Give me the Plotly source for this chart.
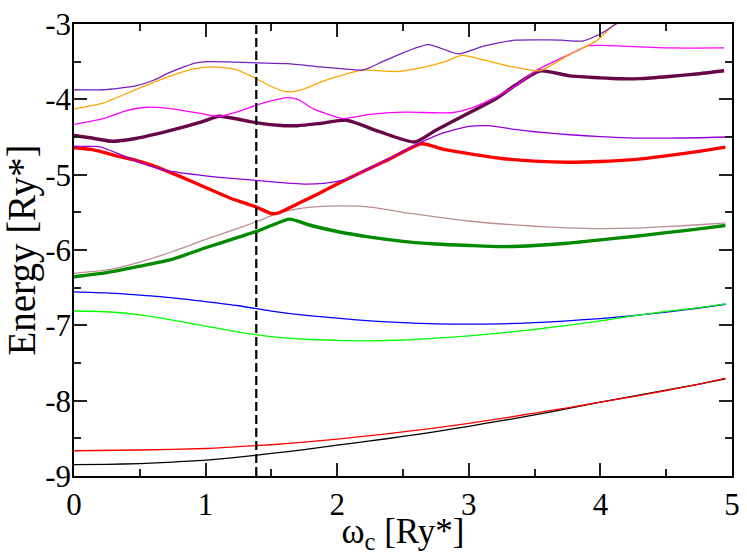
import plotly.graph_objects as go

# ── Data ──────────────────────────────────────────────────────────────────────

BLACK_X = [0, 0.25, 0.5, 0.75, 1, 1.25, 1.5, 1.75, 2, 2.25, 2.5, 2.75, 3, 3.25, 3.5, 3.75, 4, 4.25, 4.5, 4.75, 4.95]
BLACK_Y = [-8.85, -8.845, -8.835, -8.815, -8.79, -8.75, -8.70, -8.65, -8.59, -8.535, -8.475, -8.41, -8.34,
           -8.265, -8.19, -8.105, -8.02, -7.94, -7.86, -7.78, -7.71]

RED_THIN_X = [0, 0.5, 1, 1.25, 1.5, 1.75, 2, 2.25, 2.5, 2.75, 3, 3.25, 3.5, 3.75, 4, 4.25, 4.5, 4.75, 4.95]
RED_THIN_Y = [-8.665, -8.655, -8.635, -8.61, -8.585, -8.55, -8.51, -8.465, -8.415, -8.36, -8.30, -8.235,
              -8.165, -8.095, -8.02, -7.945, -7.865, -7.78, -7.70]

BLUE_X = [0, 0.25, 0.5, 0.75, 1, 1.25, 1.5, 1.75, 2, 2.25, 2.5, 2.75, 3, 3.25, 3.5, 3.75, 4, 4.25, 4.5, 4.75, 4.95]
BLUE_Y = [-6.555, -6.57, -6.60, -6.635, -6.685, -6.74, -6.81, -6.865, -6.905, -6.94, -6.965, -6.98, -6.985,
          -6.98, -6.965, -6.94, -6.91, -6.87, -6.825, -6.77, -6.72]

LIME_X = [0, 0.25, 0.5, 0.75, 1, 1.25, 1.5, 1.75, 2, 2.25, 2.5, 2.75, 3, 3.25, 3.5, 3.75, 4, 4.25, 4.5, 4.75, 4.95]
LIME_Y = [-6.81, -6.82, -6.86, -6.93, -7.01, -7.09, -7.15, -7.185, -7.20, -7.205, -7.195, -7.17, -7.14,
          -7.10, -7.055, -7.00, -6.94, -6.875, -6.815, -6.765, -6.715]

GREEN_X = [0, 0.25, 0.5, 0.75, 1, 1.25, 1.4, 1.5, 1.64, 1.78, 2, 2.25, 2.5, 2.75, 3, 3.25, 3.5, 3.75, 4,
           4.25, 4.5, 4.75, 4.95]
GREEN_Y = [-6.355, -6.30, -6.215, -6.12, -5.97, -5.83, -5.745, -5.675, -5.59, -5.665, -5.755, -5.83, -5.885,
           -5.92, -5.94, -5.955, -5.94, -5.91, -5.865, -5.82, -5.77, -5.72, -5.675]

BROWN_X = [0, 0.25, 0.5, 0.75, 1, 1.25, 1.4, 1.5, 1.62, 1.85, 2.05, 2.25, 2.5, 2.75, 3, 3.25, 3.5, 3.75, 4,
           4.25, 4.5, 4.75, 4.95]
BROWN_Y = [-6.31, -6.265, -6.16, -6.02, -5.86, -5.71, -5.615, -5.545, -5.48, -5.425, -5.415, -5.43, -5.50,
           -5.56, -5.615, -5.655, -5.685, -5.705, -5.715, -5.71, -5.69, -5.665, -5.64]

RED_X = [0, 0.15, 0.3, 0.45, 0.6, 0.8, 1, 1.2, 1.385, 1.5, 1.55, 1.7, 1.85, 2, 2.2, 2.4, 2.64, 2.8, 3,
         3.25, 3.5, 3.75, 4, 4.25, 4.5, 4.75, 4.95]
RED_Y = [-4.643, -4.67, -4.74, -4.80, -4.88, -5.02, -5.17, -5.32, -5.43, -5.515, -5.51, -5.385, -5.26,
         -5.125, -4.955, -4.79, -4.59, -4.66, -4.72, -4.785, -4.82, -4.835, -4.826, -4.80, -4.75, -4.69, -4.635]

VIOLET_X = [0, 0.15, 0.2, 0.35, 0.5, 0.6, 0.72, 0.97, 1.2, 1.385, 1.6, 1.75, 1.9, 2, 2.1, 2.2, 2.4, 2.62,
            2.8, 3, 3.15, 3.35, 3.5, 3.77, 4, 4.27, 4.5, 4.75, 4.95]
VIOLET_Y = [-4.62, -4.625, -4.63, -4.73, -4.84, -4.895, -4.95, -5.01, -5.05, -5.075, -5.11, -5.125, -5.115,
            -5.09, -5.04, -4.95, -4.78, -4.585, -4.45, -4.36, -4.35, -4.40, -4.43, -4.47, -4.495, -4.514,
            -4.515, -4.51, -4.50]

MAROON_X = [0, 0.12, 0.29, 0.47, 0.72, 0.97, 1.1, 1.22, 1.385, 1.55, 1.7, 1.87, 2.07, 2.32, 2.59, 2.75,
            3, 3.2, 3.35, 3.54, 3.77, 4, 4.15, 4.3, 4.52, 4.75, 4.94]
MAROON_Y = [-4.48, -4.51, -4.557, -4.52, -4.42, -4.30, -4.225, -4.255, -4.31, -4.345, -4.35, -4.32, -4.277,
            -4.428, -4.566, -4.41, -4.18, -4.00, -3.817, -3.624, -3.688, -3.715, -3.727, -3.725, -3.697,
            -3.66, -3.62]

MAGENTA_X = [0, 0.22, 0.4, 0.55, 0.72, 0.97, 1.1, 1.25, 1.39, 1.5, 1.62, 1.7, 1.82, 1.95, 2.05, 2.25, 2.52,
             2.87, 3, 3.17, 3.35, 3.52, 3.77, 3.91, 4.02, 4.52, 4.94]
MAGENTA_Y = [-4.333, -4.256, -4.15, -4.105, -4.12, -4.19, -4.226, -4.16, -4.075, -4.02, -3.976, -4.0,
             -4.127, -4.21, -4.256, -4.20, -4.17, -4.178, -4.127, -4.0, -3.826, -3.61, -3.40, -3.288, -3.284,
             -3.318, -3.318]

ORANGE_X = [0, 0.22, 0.47, 0.72, 0.9, 1.06, 1.22, 1.39, 1.5, 1.6, 1.65, 1.75, 1.87, 2, 2.2, 2.35, 2.47,
            2.67, 2.82, 2.95, 3.12, 3.27, 3.4, 3.54, 3.77, 3.97, 4.11, 4.5]
ORANGE_Y = [-4.127, -4.05, -3.87, -3.70, -3.60, -3.57, -3.60, -3.73, -3.83, -3.895, -3.90, -3.86, -3.774,
            -3.70, -3.61, -3.625, -3.63, -3.57, -3.50, -3.417, -3.48, -3.546, -3.59, -3.62, -3.40, -3.224,
            -3.0, -2.57]

INDIGO_X = [0, 0.22, 0.47, 0.6, 0.72, 0.85, 0.92, 1.02, 1.2, 1.39, 1.62, 1.87, 2.05, 2.2, 2.37, 2.69,
            2.92, 3.12, 3.35, 3.52, 3.7, 3.87, 4, 4.12, 4.5]
INDIGO_Y = [-3.873, -3.873, -3.82, -3.75, -3.65, -3.56, -3.52, -3.50, -3.505, -3.516, -3.525, -3.568,
            -3.595, -3.61, -3.48, -3.275, -3.396, -3.29, -3.215, -3.21, -3.215, -3.224, -3.13, -3.0, -2.66]

DASHED_X = 1.385

X_TICKS = [0, 1, 2, 3, 4, 5]
X_TICK_LABELS = ["0", "1", "2", "3", "4", "5"]
Y_TICKS = [-9, -8, -7, -6, -5, -4, -3]
Y_TICK_LABELS = ["-9", "-8", "-7", "-6", "-5", "-4", "-3"]

# ── Series styles: (x, y, colour, width) in drawing order ──────────────────────

SERIES = [
    (BLACK_X, BLACK_Y, "#000000", 1.3),
    (RED_THIN_X, RED_THIN_Y, "#ff0000", 1.3),
    (BLUE_X, BLUE_Y, "#0000ff", 1.3),
    (LIME_X, LIME_Y, "#00ff00", 1.3),
    (GREEN_X, GREEN_Y, "#008b00", 3.4),
    (BROWN_X, BROWN_Y, "#bc8f8f", 1.3),
    (RED_X, RED_Y, "#ff0000", 3.4),
    (VIOLET_X, VIOLET_Y, "#9400d3", 1.3),
    (MAROON_X, MAROON_Y, "#670748", 3.4),
    (MAGENTA_X, MAGENTA_Y, "#ff00ff", 1.3),
    (ORANGE_X, ORANGE_Y, "#ffa500", 1.3),
    (INDIGO_X, INDIGO_Y, "#7221bc", 1.3),
]

FONT = "Liberation Serif"

fig = go.Figure()

for xs, ys, color, width in SERIES:
    fig.add_trace(go.Scatter(x=xs, y=ys, mode="lines",
                             line=dict(color=color, width=width, shape="spline", smoothing=0.6),
                             showlegend=False, hoverinfo="skip"))

# vertical dashed marker line
fig.add_trace(go.Scatter(x=[DASHED_X, DASHED_X], y=[Y_TICKS[0], Y_TICKS[-1]], mode="lines",
                         line=dict(color="black", width=2.2, dash="9px,4px"),
                         showlegend=False, hoverinfo="skip"))

axis_common = dict(
    showgrid=False, zeroline=False,
    showline=True, linecolor="black", linewidth=1.5, mirror="ticks",
    ticks="inside", ticklen=13, tickwidth=1.5, tickcolor="#222222",
    tickfont=dict(family=FONT, size=31, color="black"),
    ticklabeloverflow="allow",
)

fig.update_xaxes(
    range=[0, 5], tickvals=X_TICKS, ticktext=X_TICK_LABELS,
    minor=dict(dtick=0.5, ticks="inside", ticklen=7, tickwidth=1.5, tickcolor="#222222", showgrid=False),
    title=dict(text="ω<sub>c</sub> [Ry*]", font=dict(family=FONT, size=35, color="black"), standoff=2),
    **axis_common,
)
fig.update_yaxes(
    range=[-9, -3], tickvals=Y_TICKS, ticktext=Y_TICK_LABELS, ticklabelstandoff=-5,
    minor=dict(dtick=0.5, ticks="inside", ticklen=7, tickwidth=1.5, tickcolor="#222222", showgrid=False),
    title=dict(text="Energy [Ry*]", font=dict(family=FONT, size=39, color="black"), standoff=0),
    **axis_common,
)

fig.update_layout(
    width=747, height=555,
    margin=dict(l=74, r=7, t=13, b=77),
    plot_bgcolor="white", paper_bgcolor="white",
    showlegend=False,
)

fig.write_html("out.html", config={"displayModeBar": False},
               post_script="document.body.style.margin='0';")
